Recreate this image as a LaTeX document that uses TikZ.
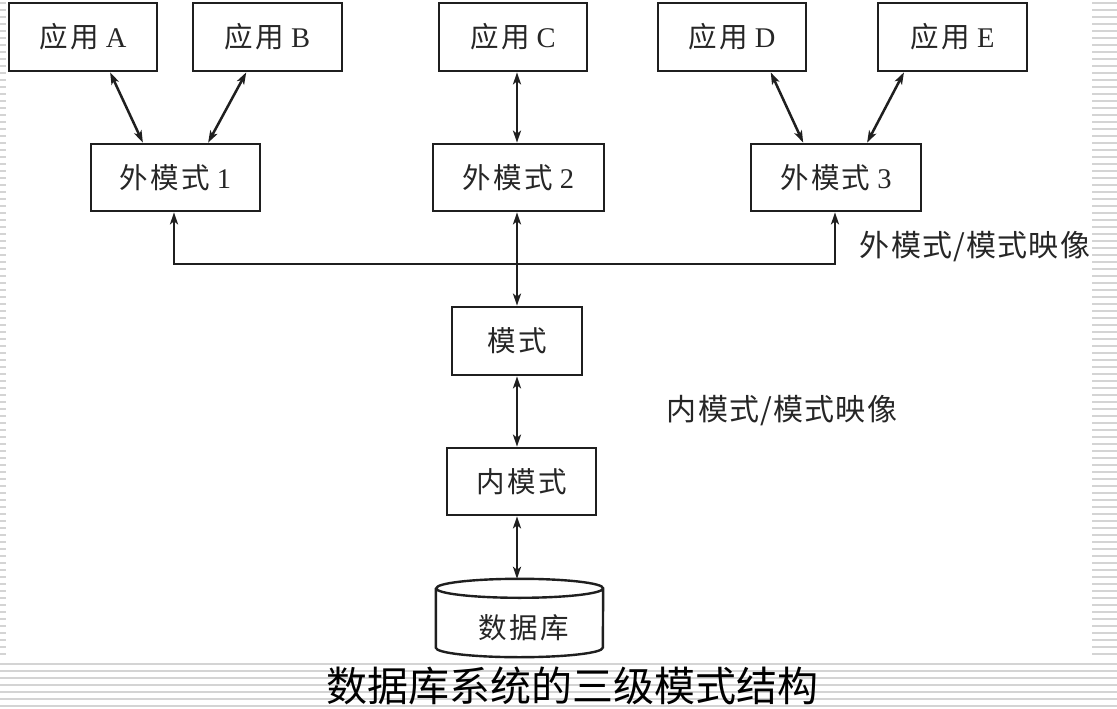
\documentclass[tikz,border=0pt]{standalone}
\usepackage{fontspec}
\setmainfont{Liberation Serif}
\newfontfamily\cjk{Noto Sans CJK SC}
\newfontfamily\cjks[LetterSpace=8]{Noto Sans CJK SC}
\newfontfamily\cjkl[LetterSpace=4]{Noto Sans CJK SC}
\usetikzlibrary{arrows.meta,calc}
\begin{document}
\begin{tikzpicture}[x=1pt,y=-1pt,
  box/.style={draw=black!88, line width=2.7pt, inner sep=0pt, text=black!85,
    font=\fontsize{28.5}{32}\selectfont},
  tip/.tip={Stealth[length=12pt,width=8pt,inset=3pt]},
  conn/.style={line width=2.5pt, draw=black!88, tip-tip},
  lbl/.style={inner sep=0pt, text=black!85, font=\cjkl\fontsize{30}{32}\selectfont},
  stripe/.style={draw=black!17, line width=1.3pt}
]
\useasboundingbox (0,0) rectangle (1117,709);
\fill[white] (0,0) rectangle (1117,709);
% decorative stripes
\foreach \yy in {3,10,...,660} {
  \draw[stripe] (0,\yy) -- (6,\yy);
  \draw[stripe] (1092,\yy) -- (1117,\yy);
}
\foreach \yy in {664,671,...,708} {
  \draw[stripe] (0,\yy) -- (1117,\yy);
}
% application boxes
\node[box, minimum width=148pt, minimum height=68pt] (appA) at (83,37) {{\cjks 应用} A};
\node[box, minimum width=149pt, minimum height=68pt] (appB) at (267.5,37) {{\cjks 应用} B};
\node[box, minimum width=148pt, minimum height=68pt] (appC) at (513,37) {{\cjks 应用} C};
\node[box, minimum width=148pt, minimum height=68pt] (appD) at (732,37) {{\cjks 应用} D};
\node[box, minimum width=149pt, minimum height=68pt] (appE) at (952.5,37) {{\cjks 应用} E};
% external schemas
\node[box, minimum width=169pt, minimum height=67pt] (em1) at (175.5,177.5) {{\cjks 外模式} 1};
\node[box, minimum width=171pt, minimum height=67pt] (em2) at (518.5,177.5) {{\cjks 外模式} 2};
\node[box, minimum width=170pt, minimum height=67pt] (em3) at (836,177.5) {{\cjks 外模式} 3};
% schema, internal schema
\node[box, minimum width=130pt, minimum height=68pt] (schema) at (517,341) {\cjks 模式};
\node[box, minimum width=149pt, minimum height=67pt] (inner) at (521.5,481.5) {\cjks 内模式};
% database
\node[minimum width=167pt, minimum height=78pt, inner sep=0pt] (db) at (519.5,618) {};
\node[lbl, font=\cjks\fontsize{28.5}{32}\selectfont] (dbtext) at (524,628) {数据库};
\draw[draw=black!88, line width=2.4pt]
  ([yshift=-9.5pt]db.north west) -- ([yshift=9.5pt]db.south west)
  arc[start angle=180, end angle=360, x radius=83.5pt, y radius=9.5pt]
  -- ([yshift=-9.5pt]db.north east)
  arc[start angle=0, end angle=360, x radius=83.5pt, y radius=9.5pt];
% labels
\node[lbl] (map1) at (975,247) {外模式/模式映像};
\node[lbl] (map2) at (782,411) {内模式/模式映像};
\node[inner sep=0pt, font=\cjk\fontsize{41}{44}\selectfont] (title) at (572,686) {数据库系统的三级模式结构};
% connectors app -> external
\draw[conn] ($(appA.south west)!0.68!(appA.south east)$) -- ($(em1.north west)!0.31!(em1.north east)$);
\draw[conn] ($(appB.south west)!0.36!(appB.south east)$) -- ($(em1.north west)!0.69!(em1.north east)$);
\draw[conn] ([xshift=-1.5pt]em2.north |- appC.south) -- ([xshift=-1.5pt]em2.north);
\draw[conn] ($(appD.south west)!0.757!(appD.south east)$) -- ($(em3.north west)!0.31!(em3.north east)$);
\draw[conn] ($(appE.south west)!0.18!(appE.south east)$) -- ($(em3.north west)!0.68!(em3.north east)$);
% external/schema mapping
\coordinate (j1) at (174,264);
\coordinate (j3) at (835,264);
\draw[conn, line join=miter] (em1.south -| j1) -- (j1) -- (j3) -- (em3.south -| j3);
\draw[conn] (em2.south -| schema.north) -- (schema.north);
% schema -> internal -> database
\draw[conn] (schema.south) -- (schema.south |- inner.north);
\draw[conn] (schema.south |- inner.south) -- (schema.south |- db.north);
\end{tikzpicture}
\end{document}
